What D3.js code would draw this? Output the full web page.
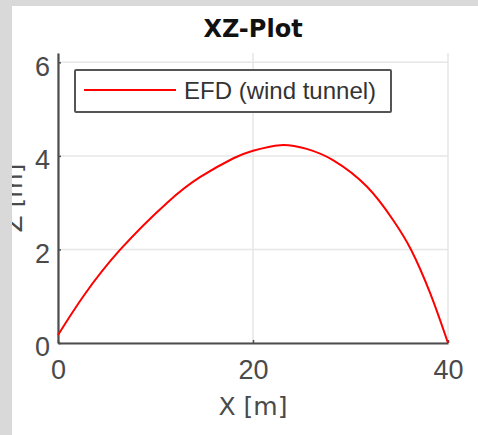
<!DOCTYPE html>
<html>
<head>
<meta charset="utf-8">
<script src="https://cdn.jsdelivr.net/npm/d3@7"></script>
<style>
  body { margin: 0; background: #d9d9d9; }
  svg { display: block; }
</style>
</head>
<body>
<script>
    // trajectory
    const xData = [0, 2.6, 6.4, 11.2, 14.6, 18.0, 20.0, 22.8, 25.5, 28.2, 31.7, 34.4, 36.2, 38.2, 40]
    const zData = [0.17, 1.0, 2.0, 3.0, 3.55, 3.95, 4.11, 4.23, 4.15, 3.91, 3.34, 2.62, 2.0, 1.05, 0]
    const xTicks = [0, 20, 40]
    const zTicks = [0, 2, 4, 6]
    const seriesName = "EFD (wind tunnel)"

    const data = xData.map((d, i) => ({ x: d, z: zData[i] }))

    const svgWidth = 478, svgHeight = 435
    const margin = { top: 53, left: 58, bottom: 92, right: 30 }

    const svg = d3.select("body").append("svg")
        .attr("width", svgWidth)
        .attr("height", svgHeight)
        .style("background-color", "#d9d9d9")

    //white panel, everything clipped to it
    svg.append("clipPath").attr("id", "panel")
        .append("rect").attr("x", 12).attr("y", 6).attr("width", svgWidth - 12).attr("height", svgHeight - 6)

    const g = svg.append("g").attr("clip-path", "url(#panel)")
    g.append("rect")
        .attr("x", 12).attr("y", 6)
        .attr("width", svgWidth - 12).attr("height", svgHeight - 6)
        .attr("fill", "white")

    //SCALES
    const x = d3.scaleLinear()
        .domain([0, 40])
        .range([margin.left, svgWidth - margin.right])

    const y = d3.scaleLinear()
        .domain([0, 6.2])
        .range([svgHeight - margin.bottom, margin.top])

    //GRID
    g.append("g").selectAll("line").data(xTicks).join("line")
        .attr("x1", d => x(d)).attr("x2", d => x(d))
        .attr("y1", y(0)).attr("y2", y(6.2))
        .attr("stroke", "#e6e6e6").attr("stroke-width", 1.5)
    g.append("g").selectAll("line").data(zTicks).join("line")
        .attr("x1", x(0)).attr("x2", x(40))
        .attr("y1", d => y(d)).attr("y2", d => y(d))
        .attr("stroke", "#e6e6e6").attr("stroke-width", 1.5)

    //AXES
    const x_axis = d3.axisBottom(x).tickValues(xTicks).tickFormat(d3.format("d"))
        .tickSizeInner(-3).tickSizeOuter(0).tickPadding(17)
    const y_axis = d3.axisLeft(y).tickValues(zTicks).tickFormat(d3.format("d"))
        .tickSizeInner(-3).tickSizeOuter(0).tickPadding(8)

    const gx = g.append("g")
        .attr("transform", `translate(0, ${y(0)})`)
        .call(x_axis)
    const gy = g.append("g")
        .attr("transform", `translate(${x(0)}, 0)`)
        .call(y_axis)

    ;[gx, gy].forEach(a => {
        a.select(".domain").attr("stroke", "#4d4d4d").attr("stroke-width", 2.2)
        a.selectAll(".tick line").attr("stroke", "#4d4d4d").attr("stroke-width", 1.5)
        a.selectAll(".tick text")
            .attr("fill", "#4a4a4a")
            .style("font-family", "'Liberation Sans', Arial, sans-serif")
            .style("font-size", "27px")
    })
    gy.selectAll(".tick text").attr("dy", "0.47em")

    //LINE
    const line = d3.line()
        .x(d => x(d.x))
        .y(d => y(d.z))
        .curve(d3.curveNatural)

    g.append("path")
        .datum(data)
        .attr("fill", "none")
        .attr("stroke", "#ff0000")
        .attr("stroke-width", 2)
        .attr("stroke-linejoin", "round")
        .attr("d", line)

    //TITLE + LABELS
    g.append("text")
        .attr("x", (x(0) + x(40)) / 2).attr("y", 37)
        .attr("text-anchor", "middle")
        .style("font-family", "'DejaVu Sans', sans-serif")
        .style("font-weight", "bold")
        .style("font-size", "24px")
        .attr("fill", "#111")
        .text("XZ-Plot")

    g.append("text")
        .attr("x", (x(0) + x(40)) / 2).attr("y", 415)
        .attr("text-anchor", "middle")
        .style("font-family", "'DejaVu Sans', sans-serif")
        .style("font-size", "25px")
        .attr("fill", "#4a4a4a")
        .text("X [m]")

    g.append("text")
        .attr("transform", `translate(22, ${(y(0) + y(6.2)) / 2}) rotate(-90)`)
        .attr("text-anchor", "middle")
        .style("font-family", "'DejaVu Sans', sans-serif")
        .style("font-size", "25px")
        .attr("fill", "#4a4a4a")
        .text("Z [m]")

    //LEGEND
    const legend = g.append("g").attr("transform", "translate(75, 70)")
    legend.append("rect")
        .attr("width", 316).attr("height", 42)
        .attr("fill", "white")
        .attr("stroke", "#555").attr("stroke-width", 2)
        .attr("rx", 1)
    legend.append("line")
        .attr("x1", 9).attr("x2", 101).attr("y1", 20).attr("y2", 20)
        .attr("stroke", "#ff0000").attr("stroke-width", 2)
    legend.append("text")
        .attr("x", 109).attr("y", 29)
        .style("font-family", "'Liberation Sans', Arial, sans-serif")
        .style("font-size", "24px")
        .attr("fill", "#333")
        .text(seriesName)
</script>
</body>
</html>
